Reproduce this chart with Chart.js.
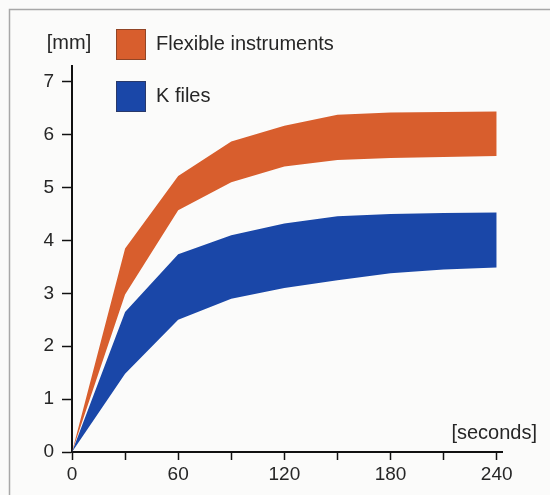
<!DOCTYPE html>
<html>
<head>
<meta charset="utf-8">
<script src="https://cdn.jsdelivr.net/npm/chart.js@4.4.1/dist/chart.umd.min.js"></script>
<style>
  html, body { margin: 0; padding: 0; background: #fbfbfa; }
  #wrap { width: 550px; height: 495px; }
</style>
</head>
<body>
<div id="wrap"><canvas id="depthChart" width="550" height="495"></canvas></div>
<script>
// time in seconds, depth in mm (band = upper / lower edge)
var seconds = [0, 30, 60, 90, 120, 150, 180, 210, 240];
var flexUpper = [0, 3.85, 5.22, 5.87, 6.17, 6.38, 6.42, 6.43, 6.44];
var flexLower = [0, 2.98, 4.57, 5.1, 5.4, 5.52, 5.56, 5.58, 5.6];
var kUpper = [0, 2.65, 3.74, 4.1, 4.32, 4.46, 4.5, 4.52, 4.53];
var kLower = [0, 1.48, 2.5, 2.9, 3.1, 3.25, 3.38, 3.45, 3.49];
var xLabels = [0, 60, 120, 180, 240];
var yLabels = [0, 1, 2, 3, 4, 5, 6, 7];

var orange = '#d85e2d';
var blue = '#1a47a8';
var textColor = '#262626';
var fontFamily = '"Liberation Sans", Arial, Helvetica, sans-serif';

function pts(ys) {
  return seconds.map(function(s, i) { return { x: s, y: ys[i] }; });
}

var decor = {
  id: 'decor',
  beforeDraw: function(chart) {
    var c = chart.ctx;
    c.save();
    c.fillStyle = '#fbfbfa';
    c.fillRect(0, 0, chart.width, chart.height);
    c.strokeStyle = '#a8a8a8';
    c.lineWidth = 1.5;
    c.beginPath();
    c.moveTo(9.5, chart.height);
    c.lineTo(9.5, 9.5);
    c.lineTo(chart.width, 9.5);
    c.stroke();
    c.restore();
  },
  afterDraw: function(chart) {
    var c = chart.ctx;
    c.save();
    c.fillStyle = textColor;
    c.font = '20px ' + fontFamily;
    c.textBaseline = 'middle';
    c.textAlign = 'center';
    c.fillText('[mm]', 69, 43);
    c.textAlign = 'right';
    c.fillText('[seconds]', 537, 433);

    // legend, one entry per band
    var items = chart.data.datasets.filter(function(d) { return d.legendBox; });
    items.forEach(function(d, i) {
      var top = 29 + i * 52;
      c.fillStyle = d.backgroundColor;
      c.fillRect(116, top, 30, 31);
      c.strokeStyle = 'rgba(60,40,30,0.45)';
      c.lineWidth = 1;
      c.strokeRect(116.5, top + 0.5, 29, 30);
      c.fillStyle = textColor;
      c.textAlign = 'left';
      c.fillText(d.label, 156, top + 15);
    });
    c.restore();
  }
};

var ctx = document.getElementById('depthChart').getContext('2d');
var chart = new Chart(ctx, {
  type: 'line',
  data: {
    datasets: [
      { label: 'Flexible instruments', legendBox: true, data: pts(flexUpper), fill: '+1',
        backgroundColor: orange, borderWidth: 0, pointRadius: 0, tension: 0 },
      { label: 'flex lower', data: pts(flexLower), fill: false,
        backgroundColor: orange, borderWidth: 0, pointRadius: 0, tension: 0 },
      { label: 'K files', legendBox: true, data: pts(kUpper), fill: '+1',
        backgroundColor: blue, borderWidth: 0, pointRadius: 0, tension: 0 },
      { label: 'k lower', data: pts(kLower), fill: false,
        backgroundColor: blue, borderWidth: 0, pointRadius: 0, tension: 0 }
    ]
  },
  options: {
    responsive: false,
    animation: false,
    events: [],
    layout: { padding: { left: 0, top: 66, right: 48, bottom: 0 } },
    plugins: { legend: { display: false }, tooltip: { enabled: false } },
    scales: {
      x: {
        type: 'linear',
        min: 0,
        max: 243,
        afterFit: function(scale) { scale.height = 43; },
        afterBuildTicks: function(scale) {
          scale.ticks = seconds.map(function(v) { return { value: v }; });
        },
        ticks: {
          autoSkip: false,
          maxRotation: 0,
          color: textColor,
          padding: 3,
          font: { family: fontFamily, size: 19 },
          callback: function(v) { return xLabels.indexOf(v) >= 0 ? String(v) : ''; }
        },
        grid: { drawOnChartArea: false, drawTicks: true, tickLength: 8, tickColor: '#111', tickWidth: 1.5 },
        border: { display: true, color: '#111', width: 2 }
      },
      y: {
        min: 0,
        max: 7.3,
        afterFit: function(scale) { scale.width = 72; },
        afterBuildTicks: function(scale) {
          scale.ticks = yLabels.map(function(v) { return { value: v }; });
        },
        ticks: {
          color: textColor,
          padding: 8,
          font: { family: fontFamily, size: 19 }
        },
        grid: { drawOnChartArea: false, drawTicks: true, tickLength: 10, tickColor: '#111', tickWidth: 1.5 },
        border: { display: true, color: '#111', width: 2 }
      }
    }
  },
  plugins: [decor]
});
</script>
</body>
</html>
